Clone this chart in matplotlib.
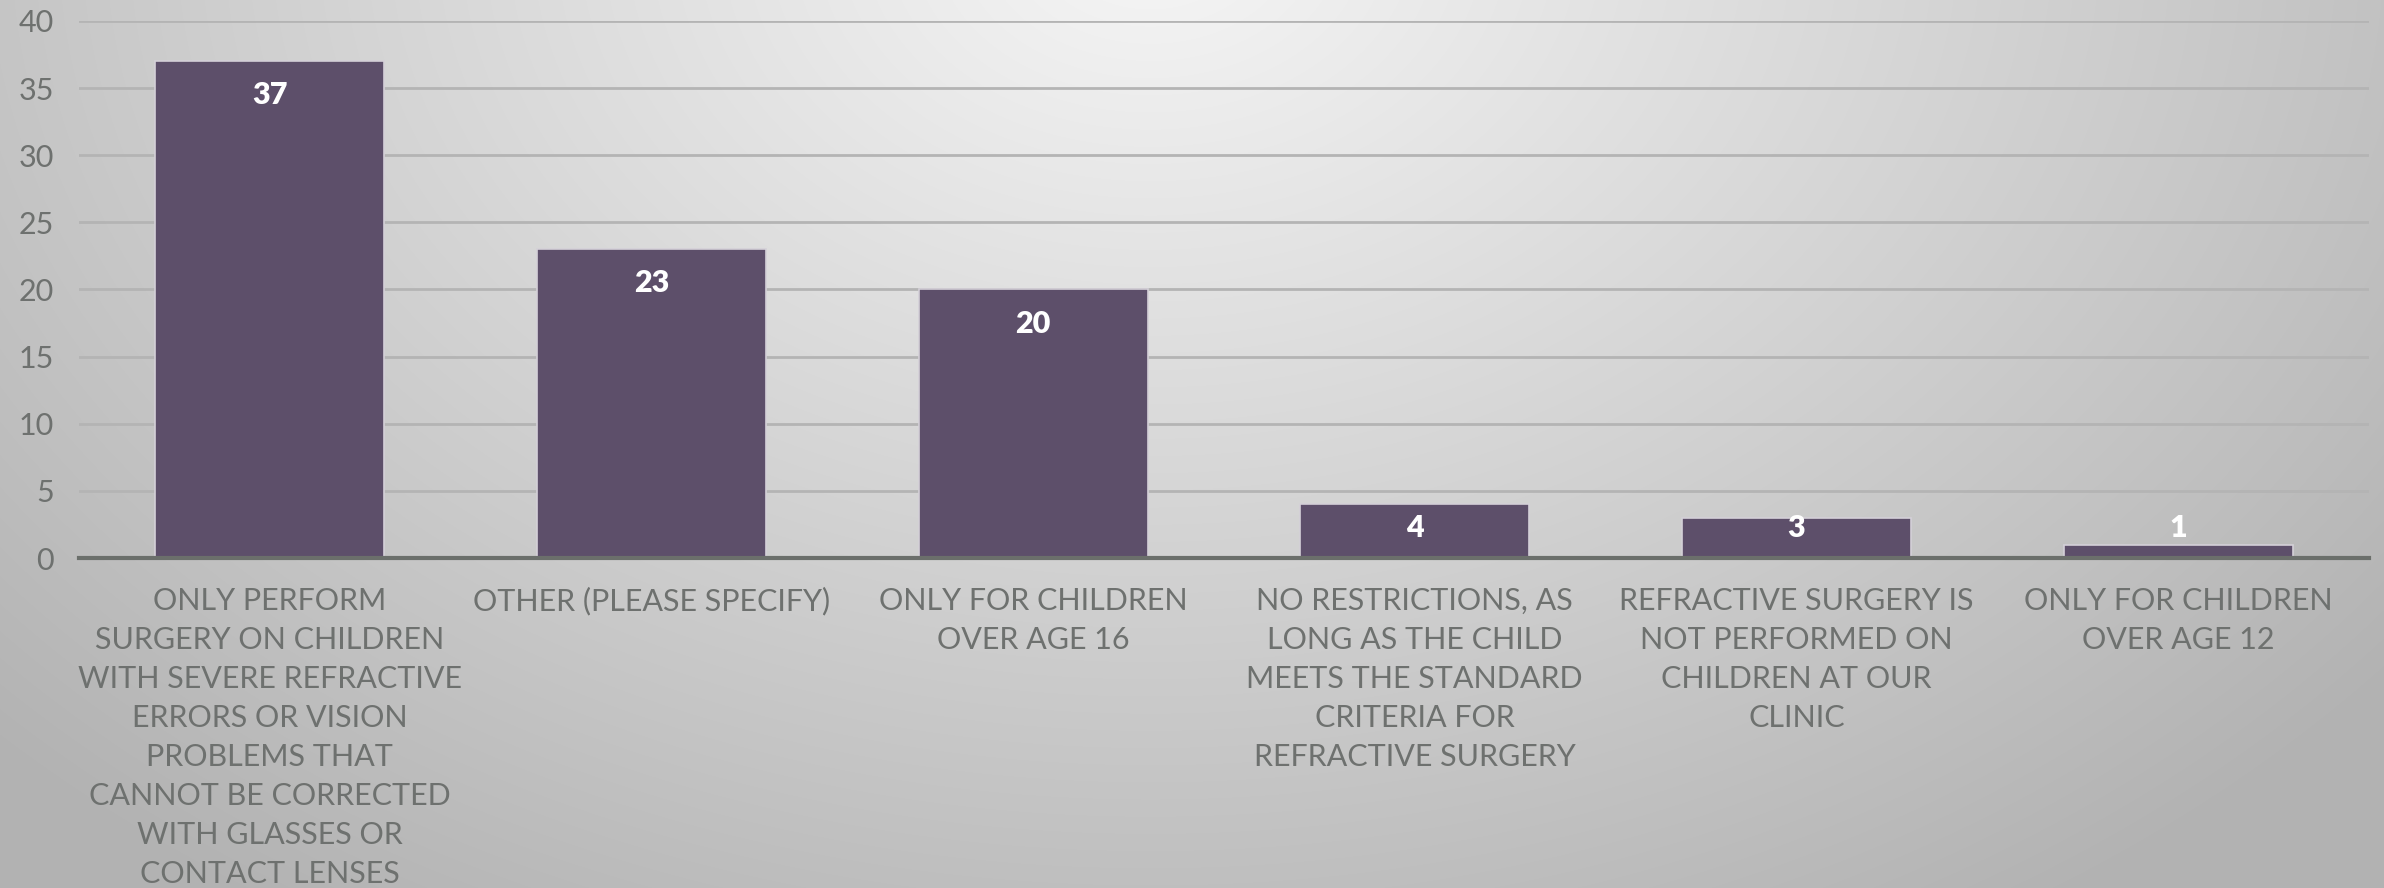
import numpy as np
import matplotlib
matplotlib.use("Agg")
import matplotlib.pyplot as plt

# ── Data ─────────────────────────────────────────────────────────────────────
categories = [
    "ONLY PERFORM\nSURGERY ON CHILDREN\nWITH SEVERE REFRACTIVE\nERRORS OR VISION\nPROBLEMS THAT\nCANNOT BE CORRECTED\nWITH GLASSES OR\nCONTACT LENSES",
    "OTHER (PLEASE SPECIFY)",
    "ONLY FOR CHILDREN\nOVER AGE 16",
    "NO RESTRICTIONS, AS\nLONG AS THE CHILD\nMEETS THE STANDARD\nCRITERIA FOR\nREFRACTIVE SURGERY",
    "REFRACTIVE SURGERY IS\nNOT PERFORMED ON\nCHILDREN AT OUR\nCLINIC",
    "ONLY FOR CHILDREN\nOVER AGE 12",
]
counts = [37, 23, 20, 4, 3, 1]
yticks = [0, 5, 10, 15, 20, 25, 30, 35, 40]

BAR = "#5d4f6a"
TEXT = "#6e716f"
FONT = "Lato"

plt.rcParams["font.family"] = [FONT, "DejaVu Sans"]

fig = plt.figure(figsize=(23.84, 8.88), dpi=100)

# ── Radial grey backdrop ─────────────────────────────────────────────────────
bg = fig.add_axes([0, 0, 1, 1], zorder=0)
h, w = 888, 2384
yy, xx = np.mgrid[0:h, 0:w]
r = np.sqrt(((xx - 1150) / 1450.0) ** 2 + ((yy + 60) / 1050.0) ** 2)
shade = np.clip(0.965 - 0.24 * r, 0.70, 0.97)
bg.imshow(np.dstack([shade] * 3), aspect="auto", interpolation="bilinear")
bg.axis("off")

# ── Bars ─────────────────────────────────────────────────────────────────────
ax = fig.add_axes([0.0331, 0.3716, 0.9606, 0.6048], zorder=1)
ax.patch.set_alpha(0)
x = np.arange(len(categories))
ax.bar(x, counts, width=0.6, color=BAR, edgecolor="#d4d0d8", linewidth=1.2, zorder=3)

ax.set_xlim(-0.5, len(categories) - 0.5)
ax.set_ylim(0, 40)
ax.set_yticks(yticks)
ax.set_yticklabels([str(t) for t in yticks])
ax.set_xticks(x)
ax.set_xticklabels(categories, linespacing=1.48, ha="center", va="top")
ax.tick_params(axis="both", length=0, labelsize=22, colors=TEXT)
ax.tick_params(axis="x", pad=21)
ax.tick_params(axis="y", pad=18)

ax.yaxis.grid(True, color="#b4b4b4", lw=2, zorder=0)
ax.set_axisbelow(True)
for s in ["top", "right", "left"]:
    ax.spines[s].set_visible(False)
ax.spines["bottom"].set_color("#6b6f6b")
ax.spines["bottom"].set_linewidth(3)
ax.spines["bottom"].set_zorder(4)

# value labels sit just inside the top of each bar, never below the floor
for xi, v in zip(x, counts):
    ax.text(xi, max(v - 2.55, 2.24), str(v), ha="center", va="center",
            color="white", fontsize=22, fontweight="heavy", zorder=5)

fig.savefig("out.png", dpi=100)
